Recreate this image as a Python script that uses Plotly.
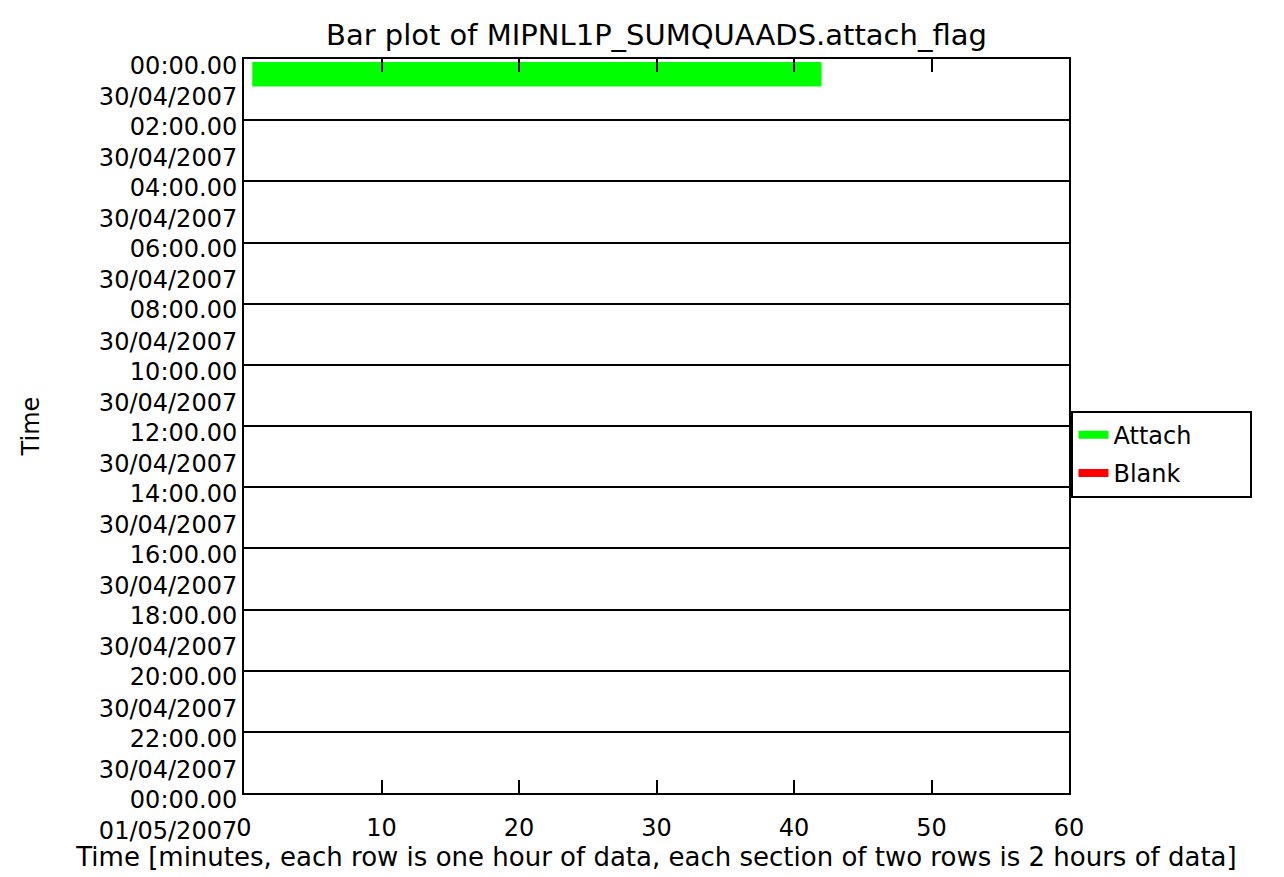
import plotly.graph_objects as go

# data
row_hours = [0]            # hour row in which each attach segment sits
attach_start = [0.6]       # minutes
attach_end = [42.0]        # minutes
blank_start = []
blank_end = []
blank_hours = []

tick_hours = list(range(0, 25, 2))
tick_labels = ["%02d:00.00<br>30/04/2007" % h for h in range(0, 24, 2)] + ["00:00.00<br>01/05/2007"]
x_ticks = [0, 10, 20, 30, 40, 50, 60]

FONT = "DejaVu Sans"
PAD = "\u00a0" * 7   # widens the legend box a bit, as in the original

fig = go.Figure()

# attach segments: centre of the hour row, 0.8 of row height
fig.add_trace(go.Bar(
    orientation="h",
    y=[h + 0.5 for h in row_hours],
    x=[e - s for s, e in zip(attach_start, attach_end)],
    base=attach_start,
    width=0.8,
    marker=dict(color="#00ff00", line=dict(width=0)),
    showlegend=False,
    hoverinfo="skip",
))
fig.add_trace(go.Bar(
    orientation="h",
    y=[h + 0.5 for h in blank_hours],
    x=[e - s for s, e in zip(blank_start, blank_end)],
    base=blank_start,
    width=0.8,
    marker=dict(color="#ff0000", line=dict(width=0)),
    showlegend=False,
))

# legend entries drawn as short thick lines, like the original
fig.add_trace(go.Scatter(x=[None], y=[None], mode="lines", name="Attach" + PAD,
                         line=dict(color="#00ff00", width=8), legendgroup="a"))
fig.add_trace(go.Scatter(x=[None], y=[None], mode="lines", name="Blank" + PAD,
                         line=dict(color="#ff0000", width=8), legendgroup="b"))

# page body has an 8px margin, so margins are shifted to land the plot where the original has it
fig.update_layout(
    width=1284, height=877,
    margin=dict(l=236, r=223, t=51, b=92),
    paper_bgcolor="white", plot_bgcolor="white",
    font=dict(family=FONT, size=24, color="black"),
    title=dict(text="Bar plot of MIPNL1P_SUMQUAADS.attach_flag", x=0.505, xanchor="center",
               y=0.969, yanchor="middle", font=dict(size=29)),
    barmode="overlay",
    legend=dict(x=1.003, y=0.521, xanchor="left", yanchor="top",
                bordercolor="black", borderwidth=2, bgcolor="white",
                tracegroupgap=4, traceorder="grouped",
                font=dict(size=24)),
)

fig.update_xaxes(
    range=[0, 60], tickvals=x_ticks, ticks="inside", ticklen=13, tickwidth=2,
    tickcolor="black", showline=True, linecolor="black", linewidth=2, mirror="ticks",
    showgrid=False, zeroline=False, ticklabelstandoff=12,
    title=dict(text="Time [minutes, each row is one hour of data, each section of two rows is 2 hours of data]",
               standoff=4, font=dict(size=26)),
)
fig.update_yaxes(
    range=[24, 0], tickvals=tick_hours, ticktext=tick_labels, ticks="",
    showline=True, linecolor="black", linewidth=2, mirror=True,
    showgrid=True, gridcolor="black", gridwidth=2, zeroline=False,
    ticklabelshift=-22, ticklabelstandoff=0,
    title=dict(text="Time", standoff=52, font=dict(size=24)),
)

fig.write_html("out.html")
